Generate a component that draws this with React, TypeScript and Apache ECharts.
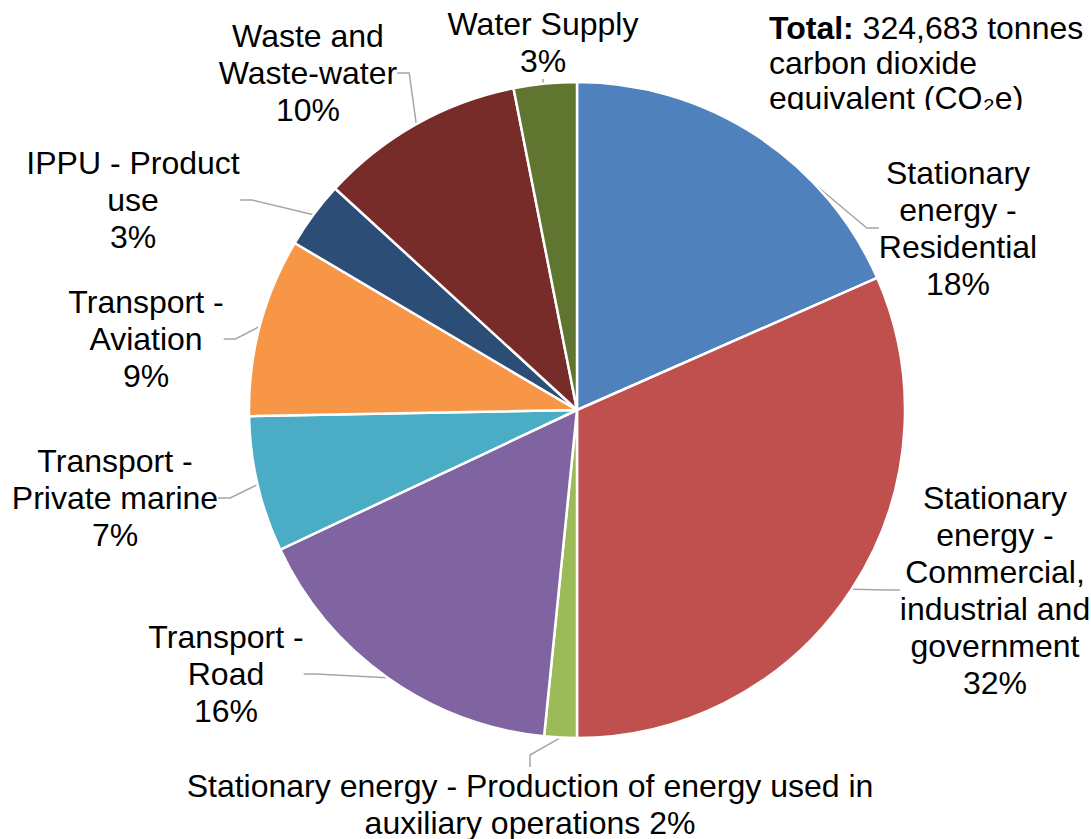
import React, { useEffect, useRef } from "react";
import * as echarts from "echarts";

const categories = [
  "Stationary\nenergy -\nResidential",
  "Stationary\nenergy -\nCommercial,\nindustrial and\ngovernment",
  "Stationary energy - Production of energy used in\nauxiliary operations",
  "Transport -\nRoad",
  "Transport -\nPrivate marine",
  "Transport -\nAviation",
  "IPPU - Product\nuse",
  "Waste and\nWaste-water",
  "Water Supply",
];
// share of total emissions, %
const shares = [18.4, 31.6, 1.6, 16.4, 6.7, 8.8, 3.3, 10.1, 3.1];
// percentages as printed on the chart
const shownPercent = [18, 32, 2, 16, 7, 9, 3, 10, 3];
const colors = ["#4F81BD", "#C0504D", "#9BBB59", "#8064A2", "#4BACC6", "#F79646", "#2C4D75", "#772C2A", "#5F7530"];
const labelPos: [number, number][] = [
  [958, 228],
  [995, 590],
  [530, 804],
  [226, 674],
  [115, 498],
  [146, 339],
  [133, 200],
  [308, 73],
  [543, 42],
];

export default function App() {
  const ref = useRef<HTMLDivElement>(null);
  useEffect(() => {
    document.body.style.margin = "0";
    const chart = echarts.init(ref.current!, null, { renderer: "svg" });
    const font = "'Liberation Sans', Arial, sans-serif";
    chart.setOption({
      animation: false,
      backgroundColor: "#ffffff",
      title: {
        left: 764,
        top: 5,
        text: "{b|Total:} 324,683 tonnes\ncarbon dioxide\nequivalent (CO₂e)",
        textStyle: {
          fontFamily: font,
          fontSize: 32,
          lineHeight: 35,
          color: "#000",
          fontWeight: "normal",
          rich: {
            b: { fontFamily: font, fontSize: 32, lineHeight: 35, fontWeight: "bold", color: "#000" },
          },
        },
      },
      graphic: [
        {
          type: "rect",
          z: 100,
          shape: { x: 760, y: 110, width: 331, height: 14 },
          style: { fill: "#ffffff" },
        },
      ],
      series: [
        {
          type: "pie",
          center: [577, 410],
          radius: 328,
          startAngle: 90,
          clockwise: true,
          avoidLabelOverlap: false,
          data: categories.map((c, i) => ({ name: c, value: shares[i], itemStyle: { color: colors[i] } })),
          itemStyle: { borderColor: "#ffffff", borderWidth: 2.5 },
          label: {
            show: true,
            position: "outside",
            fontFamily: font,
            fontSize: 32,
            lineHeight: 37,
            color: "#000",
            align: "center",
            formatter: (p: any) =>
              p.name + (p.dataIndex === 2 ? " " : "\n") + shownPercent[p.dataIndex] + "%",
          },
          labelLine: {
            show: true,
            length: 20,
            length2: 12,
            lineStyle: { color: "#A6A6A6", width: 1.5 },
          },
          labelLayout: (params: any) => {
            const p = labelPos[params.dataIndex];
            return { x: p[0], y: p[1], align: "center", verticalAlign: "middle" };
          },
        },
      ],
    });
    return () => chart.dispose();
  }, []);
  return <div ref={ref} style={{ width: 1091, height: 839 }} />;
}
